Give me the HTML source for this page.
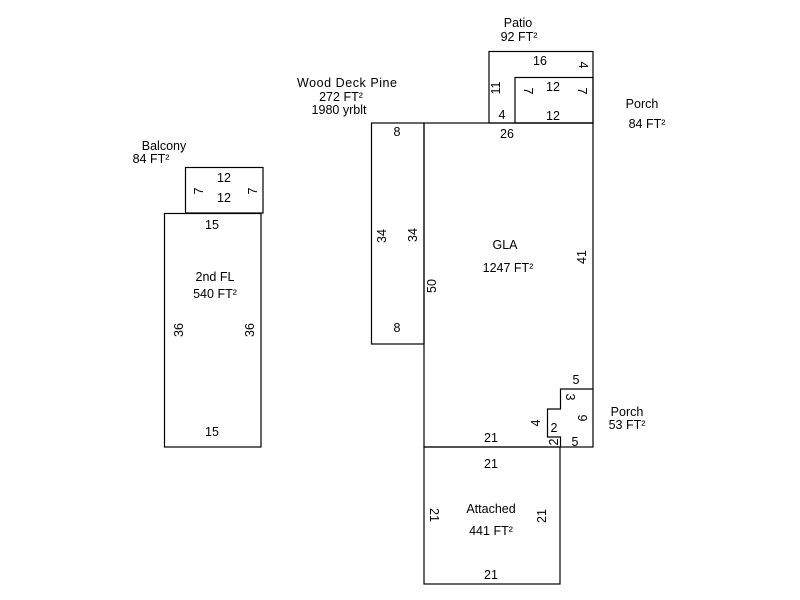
<!DOCTYPE html>
<html><head><style>body{margin:0;background:#fff}svg{display:block}text{font-family:"Liberation Sans",Arial,sans-serif;font-size:12.5px;fill:#000}</style></head>
<body>
<svg width="800" height="600" viewBox="0 0 800 600" xmlns="http://www.w3.org/2000/svg">
<g fill="none" stroke="#000" stroke-width="1.2">
<rect x="489" y="51.5" width="104" height="71.5"/>
<rect x="515" y="77.5" width="78" height="45.5"/>
<rect x="424" y="123" width="169" height="324"/>
<rect x="371.5" y="123" width="52.5" height="221"/>
<rect x="424" y="447" width="136" height="137"/>
<rect x="164.5" y="213.5" width="96.5" height="233.5"/>
<rect x="185.5" y="167.5" width="77.5" height="45.5"/>
<polyline points="593,389 560.5,389 560.5,409 547.5,409 547.5,437 560.5,437 560.5,447"/>
</g>
<g text-anchor="middle">
<text x="518" y="27">Patio</text><text x="519" y="41">92 FT²</text>
<text x="540" y="65">16</text>
<text x="553" y="91">12</text><text x="553" y="120">12</text>
<text x="502" y="119">4</text><text x="507" y="138">26</text>
<text x="642" y="108">Porch</text><text x="647" y="128">84 FT²</text>
<text x="347" y="87" textLength="100">Wood Deck Pine</text><text x="341" y="101">272 FT²</text><text x="339" y="114">1980 yrblt</text>
<text x="397" y="136">8</text><text x="397" y="332">8</text>
<text x="505" y="249">GLA</text><text x="508" y="272">1247 FT²</text>
<text x="164" y="150">Balcony</text><text x="151" y="163">84 FT²</text>
<text x="224" y="182">12</text><text x="224" y="202">12</text>
<text x="212" y="229">15</text><text x="212" y="436">15</text>
<text x="215" y="281">2nd FL</text><text x="215" y="298">540 FT²</text>
<text x="576" y="384">5</text><text x="575" y="446">5</text>
<text x="554" y="432">2</text>
<text x="627" y="416">Porch</text><text x="627" y="429">53 FT²</text>
<text x="491" y="442">21</text><text x="491" y="468">21</text><text x="491" y="579">21</text>
<text x="491" y="513">Attached</text><text x="491" y="535">441 FT²</text>
</g>
<g text-anchor="middle">
<text transform="translate(579,65) rotate(90)">4</text>
<text transform="translate(500,88) rotate(-90)">11</text>
<text transform="translate(524,91) rotate(90)">7</text>
<text transform="translate(578,91) rotate(90)">7</text>
<text transform="translate(386,236) rotate(-90)">34</text>
<text transform="translate(417,235) rotate(-90)">34</text>
<text transform="translate(436,286) rotate(-90)">50</text>
<text transform="translate(586,257) rotate(-90)">41</text>
<text transform="translate(203,191) rotate(-90)">7</text>
<text transform="translate(257,191) rotate(-90)">7</text>
<text transform="translate(183,330) rotate(-90)">36</text>
<text transform="translate(254,330) rotate(-90)">36</text>
<text transform="translate(566,397) rotate(90)">3</text>
<text transform="translate(578,418) rotate(90)">9</text>
<text transform="translate(540,423) rotate(-90)">4</text>
<text transform="translate(558,442) rotate(-90)">2</text>
<text transform="translate(430,515) rotate(90)">21</text>
<text transform="translate(546,516) rotate(-90)">21</text>
</g>
</svg>
</body></html>
